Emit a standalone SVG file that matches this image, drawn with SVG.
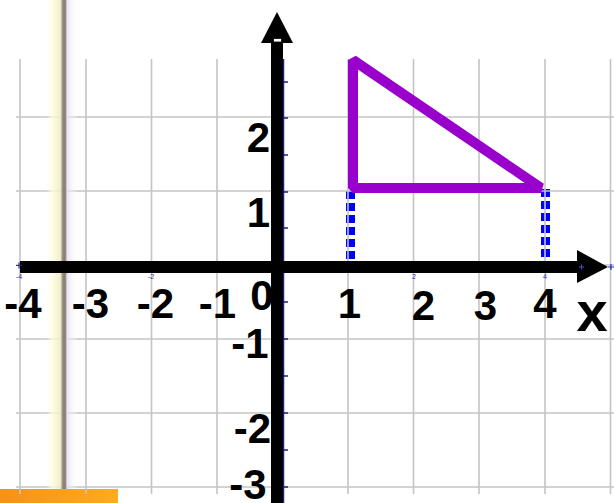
<svg xmlns="http://www.w3.org/2000/svg" width="614" height="503" viewBox="0 0 614 503">
  <defs>
    <linearGradient id="frame" x1="0" y1="0" x2="1" y2="0">
      <stop offset="0" stop-color="#fffbe0" stop-opacity="0"/>
      <stop offset="0.2" stop-color="#fffbe0" stop-opacity="0.8"/>
      <stop offset="0.45" stop-color="#f2ecc8" stop-opacity="0.9"/>
      <stop offset="0.52" stop-color="#948c7c"/>
      <stop offset="0.6" stop-color="#857b6d"/>
      <stop offset="0.66" stop-color="#e6def0" stop-opacity="0.9"/>
      <stop offset="1" stop-color="#ffffff" stop-opacity="0"/>
    </linearGradient>
    <linearGradient id="orange" x1="0" y1="0" x2="1" y2="0">
      <stop offset="0" stop-color="#f4921a"/>
      <stop offset="1" stop-color="#fcab1f"/>
    </linearGradient>
    <style>
      .grid line { stroke: #c4c4c4; stroke-width: 1.6; }
      .big { font-family: "Liberation Sans", Arial, sans-serif; font-weight: bold; font-size: 42px; fill: #000; text-anchor: middle; }
      .small { font-family: "Liberation Sans", Arial, sans-serif; font-size: 7px; fill: #2a2ab0; text-anchor: middle; }
      .dash { stroke: #0000ff; stroke-width: 9; stroke-dasharray: 8 4; fill: none; }
      .tick { stroke: #1c1c8a; stroke-width: 1.5; }
    </style>
  </defs>
  <rect width="614" height="503" fill="#ffffff"/>

  <g id="dashed">
    <line class="dash" x1="350.5" y1="191" x2="350.5" y2="262"/>
    <line class="dash" x1="545.5" y1="189" x2="545.5" y2="262"/>
  </g>

  <g id="grid" class="grid">
    <line x1="20" y1="59" x2="20" y2="494"/>
    <line x1="86" y1="59" x2="86" y2="494"/>
    <line x1="151.5" y1="59" x2="151.5" y2="494"/>
    <line x1="217" y1="59" x2="217" y2="494"/>
    <line x1="348" y1="59" x2="348" y2="494"/>
    <line x1="413.5" y1="59" x2="413.5" y2="494"/>
    <line x1="479" y1="59" x2="479" y2="494"/>
    <line x1="545" y1="59" x2="545" y2="494"/>
    <line x1="610.5" y1="59" x2="610.5" y2="494"/>
    <line x1="16" y1="117" x2="614" y2="117"/>
    <line x1="16" y1="191" x2="614" y2="191"/>
    <line x1="16" y1="265" x2="614" y2="265"/>
    <line x1="16" y1="339" x2="614" y2="339"/>
    <line x1="16" y1="413" x2="614" y2="413"/>
    <line x1="16" y1="487" x2="614" y2="487"/>
  </g>

  <rect id="frame-edge" x="46" y="0" width="32" height="503" fill="url(#frame)"/>
  <rect id="orange-bar" x="0" y="489" width="118" height="14" fill="url(#orange)"/>
  <g class="grid">
    <line x1="20" y1="489" x2="20" y2="494"/>
    <line x1="86" y1="489" x2="86" y2="494"/>
  </g>

  <g id="triangle">
    <polygon points="353,60 353,188 541,188" fill="none" stroke="#9900cc" stroke-width="10" stroke-linejoin="bevel"/>
  </g>

  <g id="y-axis">
    <line x1="283.5" y1="59" x2="283.5" y2="503" stroke="#1c1c8a" stroke-width="1.5"/>
    <g class="tick">
      <line x1="283" y1="82" x2="288" y2="82"/>
      <line x1="283" y1="118" x2="288" y2="118"/>
      <line x1="283" y1="155" x2="288" y2="155"/>
      <line x1="283" y1="192" x2="288" y2="192"/>
      <line x1="283" y1="228" x2="288" y2="228"/>
      <line x1="283" y1="302" x2="288" y2="302"/>
      <line x1="283" y1="339" x2="288" y2="339"/>
      <line x1="283" y1="376" x2="288" y2="376"/>
      <line x1="283" y1="413" x2="288" y2="413"/>
      <line x1="283" y1="450" x2="288" y2="450"/>
      <line x1="283" y1="487" x2="288" y2="487"/>
    </g>
    <rect x="271" y="42" width="12" height="461" fill="#000"/>
    <polygon points="261,43 293,43 277,12" fill="#000"/>
    <rect x="273.5" y="38.5" width="8" height="3.5" fill="#fff" stroke="#000" stroke-width="0.8"/>
  </g>

  <g id="x-axis">
    <rect x="20" y="261" width="560" height="12" fill="#000"/>
    <polygon points="577,250 577,283 608,267" fill="#000"/>
    <path d="M579,267 h5 M581.5,264.5 v5" stroke="#4a4ad0" stroke-width="1"/>
    <path d="M16,265.5 h6 M19,262.5 v6" stroke="#2a2ab0" stroke-width="1.2"/>
    <path d="M608,267 h6 M611,264 v6" stroke="#2a2ab0" stroke-width="1.2"/>
    <text class="small" x="19" y="279">-4</text>
    <text class="small" x="151" y="279">-2</text>
    <text class="small" x="414" y="279">2</text>
    <text class="small" x="545" y="279">4</text>
  </g>

  <g id="x-labels">
    <text class="big" x="23" y="318">-4</text>
    <text class="big" x="90.5" y="318">-3</text>
    <text class="big" x="155.5" y="318">-2</text>
    <text class="big" x="217.5" y="318">-1</text>
    <text class="big" x="262" y="310">0</text>
    <text class="big" x="349.5" y="318">1</text>
    <text class="big" x="423.5" y="320">2</text>
    <text class="big" x="485.5" y="320">3</text>
    <text class="big" x="545" y="318">4</text>
    <text class="big" x="592" y="331" style="font-size:56px">x</text>
  </g>

  <g id="y-labels">
    <text class="big" x="258.5" y="152">2</text>
    <text class="big" x="258.5" y="227">1</text>
    <text class="big" x="250" y="358">-1</text>
    <text class="big" x="252.5" y="443">-2</text>
    <text class="big" x="248" y="499">-3</text>
  </g>
</svg>
